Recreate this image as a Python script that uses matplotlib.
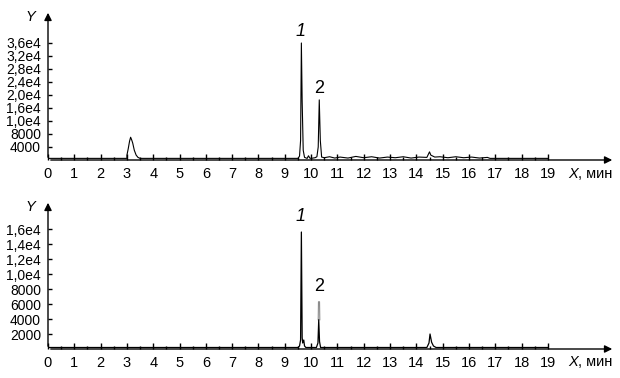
import matplotlib
matplotlib.use('Agg')
import matplotlib.pyplot as plt

plt.rcParams['font.family'] = ['Liberation Sans', 'DejaVu Sans']

# top chromatogram (time, min / signal)
top_t = [0.0, 2.95, 3.0, 3.0, 3.05, 3.1, 3.14, 3.18, 3.22, 3.28, 3.35, 3.42, 3.5,
         9.5, 9.56, 9.6, 9.63, 9.66, 9.7, 9.75, 9.85, 9.9, 9.95, 10.0, 10.15,
         10.22, 10.27, 10.31, 10.35, 10.4, 10.5, 10.7, 10.9, 11.1, 11.4, 11.7,
         12.0, 12.3, 12.6, 12.9, 13.2, 13.5, 13.8, 14.1, 14.4, 14.5, 14.55, 14.7,
         14.9, 15.2, 15.5, 15.8, 16.1, 16.4, 16.7, 16.8, 19.0]
top_y = [500, 500, 500, 1500, 3500, 5800, 7000, 6200, 5200, 3000, 1500, 800, 500,
         500, 1200, 6000, 36000, 18000, 3000, 800, 500, 1300, 600, 500, 700,
         1000, 4000, 18500, 6000, 900, 700, 1000, 600, 900, 600, 1100,
         700, 1000, 600, 900, 700, 1000, 600, 900, 800, 2500, 1500, 900,
         1000, 700, 1000, 700, 900, 600, 800, 500, 500]

top_ticks = [4000, 8000, 12000, 16000, 20000, 24000, 28000, 32000, 36000]
top_labels = ['4000', '8000', '1,0e4', '1,6e4', '2,0e4', '2,4e4', '2,8e4', '3,2e4', '3,6e4']

# bottom chromatogram
bot_t = [0.0, 9.5, 9.56, 9.6, 9.63, 9.66, 9.68, 9.72, 9.75, 9.8, 10.2, 10.26,
         10.29, 10.32, 10.36, 14.4, 14.48, 14.52, 14.58, 14.65, 14.75, 19.0]
bot_y = [200, 200, 400, 1200, 15600, 1500, 800, 1200, 400, 200, 200, 800,
         3900, 1000, 200, 200, 800, 2000, 900, 400, 200, 200]
bot_p2_t = [10.27, 10.28, 10.32, 10.33]
bot_p2_y = [3900, 6300, 6300, 3900]

bot_ticks = [2000, 4000, 6000, 8000, 10000, 12000, 14000, 16000]
bot_labels = ['2000', '4000', '6000', '8000', '1,0e4', '1,2e4', '1,4e4', '1,6e4']

x_ticks = list(range(20))
x_minor = [i + 0.5 for i in range(19)]

fig = plt.figure(figsize=(6.2, 3.78), dpi=100)
W, H = 620.0, 378.0


def setup(ax, ymax, yticks, ylabels, peaks):
    ax.set_xlim(0, 21.55)
    ax.set_ylim(0, ymax)
    for s in ax.spines.values():
        s.set_visible(False)
    ax.annotate('', xy=(1, 0), xytext=(0, 0), xycoords='axes fraction',
                arrowprops=dict(arrowstyle='-|>', color='k', lw=1, mutation_scale=11))
    ax.annotate('', xy=(0, 1), xytext=(0, 0), xycoords='axes fraction',
                arrowprops=dict(arrowstyle='-|>', color='k', lw=1, mutation_scale=11))
    ax.set_xticks(x_ticks)
    ax.set_xticks(x_minor, minor=True)
    ax.set_yticks(yticks, ylabels)
    ax.tick_params(axis='x', which='major', direction='in', length=4, width=1, pad=5, labelsize=10.5)
    ax.tick_params(axis='x', which='minor', direction='in', length=2, width=1)
    ax.tick_params(axis='y', direction='in', length=3, width=1, pad=5, labelsize=10)
    ax.text(-0.022, 1.0, 'Y', transform=ax.transAxes, fontsize=10.5, style='italic',
            ha='right', va='top')
    ax.text(0.918, -0.09, 'X', transform=ax.transAxes, fontsize=10.5, style='italic',
            ha='left', va='center')
    ax.text(0.934, -0.09, ', мин', transform=ax.transAxes, fontsize=10.5,
            ha='left', va='center')
    (x1, y1), (x2, y2) = peaks
    ax.text(x1, y1, '1', fontsize=13, style='italic', ha='center', va='bottom')
    ax.text(x2, y2, '2', fontsize=13, ha='center', va='bottom')


ax1 = fig.add_axes([48 / W, (H - 160) / H, (615 - 48) / W, 150 / H])
ax1.plot(top_t, top_y, color='k', lw=0.8)
setup(ax1, 46150, top_ticks, top_labels, [(9.6, 37000), (10.32, 19500)])

ax2 = fig.add_axes([48 / W, (H - 349) / H, (615 - 48) / W, 149 / H])
ax2.plot(bot_p2_t, bot_p2_y, color='0.55', lw=0.8)
ax2.plot(bot_t, bot_y, color='k', lw=0.9)
setup(ax2, 19870, bot_ticks, bot_labels, [(9.6, 16600), (10.32, 7200)])

fig.savefig('out.png', dpi=100)
